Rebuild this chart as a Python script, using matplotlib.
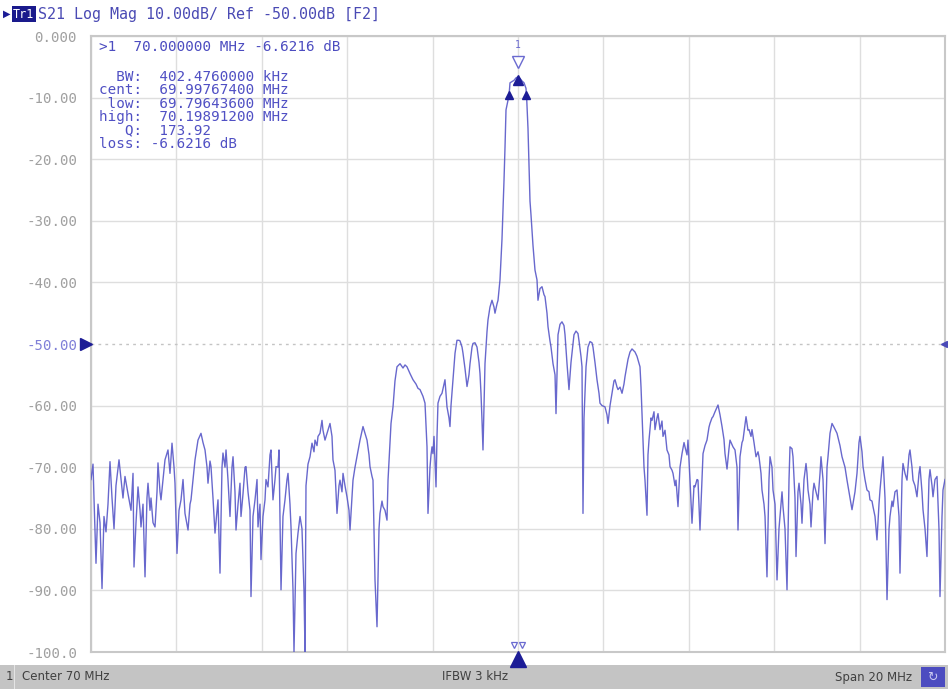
import numpy as np
import matplotlib
matplotlib.use("Agg")
import matplotlib.pyplot as plt
from matplotlib.patches import Rectangle

# ---------------- data ----------------
seg1_mhz = [60.000, 60.047, 60.070, 60.117, 60.164, 60.211, 60.258, 60.304, 60.351, 60.398,
            60.445, 60.492, 60.539, 60.585, 60.656, 60.703, 60.749, 60.796, 60.866, 60.937,
            60.984, 61.007, 61.054, 61.101, 61.148, 61.171, 61.218, 61.265, 61.311, 61.335,
            61.382, 61.405, 61.452, 61.499, 61.546, 61.569, 61.616, 61.639, 61.686, 61.733,
            61.803, 61.850, 61.897, 61.944, 61.967, 62.014, 62.061, 62.108, 62.155, 62.201,
            62.272, 62.319, 62.342, 62.389, 62.436, 62.506, 62.576, 62.623, 62.670, 62.717,
            62.740, 62.787, 62.810, 62.857, 62.904, 62.951, 62.974, 63.021, 63.068, 63.091,
            63.138, 63.162, 63.208, 63.255, 63.302, 63.326, 63.372, 63.396, 63.443, 63.489,
            63.513, 63.560, 63.607, 63.630, 63.677, 63.724, 63.747, 63.794, 63.841, 63.888,
            63.911, 63.958, 63.981, 64.028, 64.075, 64.098, 64.145, 64.192, 64.215, 64.262,
            64.309, 64.333, 64.379, 64.403, 64.450, 64.496, 64.543, 64.590, 64.614, 64.660,
            64.684, 64.731, 64.754, 64.801, 64.848, 64.895, 64.941, 64.988, 65.012, 65.035]
seg1_db = [-72.0, -69.5, -75.0, -85.6, -76.0, -79.0, -89.7, -78.0, -80.5, -76.0,
           -69.1, -75.0, -80.0, -73.0, -68.8, -72.0, -75.0, -71.5, -74.3, -77.0,
           -71.0, -86.2, -79.0, -73.2, -77.0, -79.7, -76.0, -87.8, -75.0, -72.6,
           -77.0, -75.0, -79.0, -79.7, -74.0, -69.3, -74.0, -75.3, -72.0, -68.8,
           -67.2, -71.0, -66.1, -70.0, -72.6, -84.0, -77.0, -75.3, -72.0, -77.5,
           -80.2, -76.0, -75.3, -72.0, -68.8, -65.6, -64.5, -66.0, -67.2, -70.0,
           -72.6, -69.0, -69.9, -75.0, -80.7, -77.0, -75.3, -87.2, -70.0, -67.7,
           -70.0, -67.2, -72.0, -78.0, -70.0, -68.3, -74.0, -80.2, -76.0, -72.6,
           -78.0, -74.3, -70.0, -69.9, -74.0, -77.0, -91.0, -78.0, -75.3, -72.0,
           -79.7, -76.0, -85.0, -78.0, -75.3, -72.0, -73.2, -68.0, -67.2, -75.3,
           -72.0, -69.9, -70.0, -67.2, -89.9, -78.0, -75.3, -72.0, -71.0, -76.0,
           -79.7, -90.0, -100.0, -84.0, -80.7, -78.0, -80.0, -90.0, -100.0, -73.0]

seg2_mhz = [65.082, 65.129, 65.176, 65.222, 65.246, 65.293, 65.316, 65.363, 65.410, 65.433,
            65.480, 65.527, 65.597, 65.644, 65.667, 65.714, 65.761, 65.808, 65.831, 65.878,
            65.902, 65.948, 65.995, 66.042, 66.066, 66.112, 66.136, 66.183, 66.229, 66.300,
            66.370, 66.417, 66.464, 66.511, 66.534, 66.581, 66.604, 66.651, 66.698, 66.745,
            66.768, 66.815, 66.838, 66.885, 66.932, 66.956, 67.002, 67.026, 67.073, 67.119,
            67.166, 67.237, 67.307, 67.354, 67.400, 67.471, 67.541, 67.611, 67.658, 67.705,
            67.775, 67.822, 67.845, 67.869, 67.892, 67.939, 67.963, 67.986, 68.009, 68.033,
            68.080, 68.103, 68.126, 68.173, 68.220, 68.267, 68.290, 68.337, 68.384, 68.407,
            68.431, 68.478, 68.525, 68.571, 68.618, 68.642, 68.689, 68.712, 68.759, 68.806,
            68.852, 68.876, 68.923, 68.946, 68.993, 69.040, 69.087, 69.110, 69.133, 69.157,
            69.180, 69.227, 69.274, 69.297, 69.344, 69.391, 69.438, 69.461, 69.508, 69.532,
            69.578, 69.625, 69.672, 69.696, 69.719, 69.790, 69.813, 69.860, 69.906, 69.953,
            70.000, 70.047, 70.094, 70.141, 70.187, 70.200, 70.234, 70.258, 70.281, 70.304,
            70.351, 70.398, 70.445]
seg2_db = [-69.5, -68.3, -66.1, -67.5, -65.6, -66.5, -65.0, -64.5, -62.4, -64.0,
           -65.6, -64.5, -62.9, -65.0, -68.8, -70.5, -77.5, -73.0, -72.1, -74.0,
           -71.0, -73.0, -74.8, -77.0, -80.2, -75.0, -72.1, -70.0, -68.3, -65.6,
           -63.4, -64.5, -65.6, -68.0, -69.9, -71.5, -72.1, -88.3, -95.9, -80.0,
           -77.5, -75.5, -76.4, -77.0, -78.6, -72.1, -66.0, -62.9, -60.2, -56.0,
           -53.7, -53.2, -53.9, -53.4, -53.7, -54.8, -55.8, -56.5, -57.2, -57.4,
           -58.5, -59.6, -63.0, -66.7, -77.5, -70.0, -68.0, -66.7, -67.8, -65.0,
           -73.2, -65.0, -59.6, -58.5, -58.0, -56.5, -55.8, -60.2, -62.0, -63.4,
           -60.0, -55.8, -51.5, -49.4, -49.4, -49.5, -50.5, -51.5, -54.0, -56.9,
           -55.0, -53.2, -50.5, -49.9, -49.8, -50.5, -53.0, -54.8, -58.0, -62.4,
           -67.2, -53.2, -48.0, -46.1, -44.0, -42.9, -44.0, -45.0, -43.5, -42.9,
           -39.6, -33.0, -23.5, -18.0, -12.0, -9.62, -7.6, -7.4, -7.2, -6.8,
           -6.62, -6.9, -7.3, -7.6, -8.5, -9.62, -15.0, -20.9, -26.8, -29.0,
           -34.0, -38.0, -39.6]

seg3_mhz = [70.468, 70.515, 70.562, 70.609, 70.632, 70.679, 70.703, 70.749, 70.773, 70.820,
            70.867, 70.890, 70.913, 70.937, 70.984, 71.030, 71.077, 71.101, 71.148, 71.194,
            71.241, 71.265, 71.311, 71.358, 71.405, 71.429, 71.475, 71.499, 71.522, 71.546,
            71.593, 71.639, 71.686, 71.733, 71.756, 71.803, 71.850, 71.897, 71.920, 71.967,
            72.037, 72.084, 72.108, 72.155, 72.201, 72.248, 72.272, 72.319, 72.342, 72.389,
            72.436, 72.482, 72.506, 72.576, 72.623, 72.670, 72.740, 72.787, 72.857, 72.881,
            72.904, 72.951, 72.974, 73.021, 73.044, 73.068, 73.115, 73.138, 73.185, 73.208,
            73.255, 73.279, 73.326, 73.372, 73.396, 73.443, 73.489, 73.536, 73.560, 73.607,
            73.630, 73.677, 73.700, 73.747, 73.794, 73.841, 73.888, 73.911, 73.958, 73.981,
            74.028, 74.075, 74.122, 74.145, 74.192, 74.215, 74.262, 74.309, 74.333, 74.379,
            74.426, 74.473, 74.496, 74.543, 74.567, 74.614, 74.684, 74.731, 74.778, 74.824,
            74.848, 74.895, 74.941, 74.965, 75.035]
seg3_db = [-42.9, -41.0, -40.7, -42.0, -42.3, -45.0, -47.2, -49.5, -50.5, -53.2,
           -55.0, -61.3, -55.0, -48.5, -46.8, -46.4, -47.0, -48.5, -53.2, -57.4,
           -53.0, -51.5, -48.5, -47.9, -48.3, -49.5, -52.0, -53.7, -77.5, -62.0,
           -53.7, -50.5, -49.6, -49.8, -50.5, -53.0, -55.8, -58.0, -59.6, -60.0,
           -60.2, -61.5, -62.9, -60.0, -58.0, -56.0, -55.8, -57.0, -57.4, -57.0,
           -58.0, -56.5, -55.3, -52.5, -51.3, -50.8, -51.3, -52.0, -53.7, -57.0,
           -61.3, -70.0, -72.1, -77.8, -68.0, -65.6, -62.0, -62.4, -61.0, -63.9,
           -62.0, -61.3, -63.9, -62.5, -65.0, -64.0, -67.2, -68.0, -69.9, -70.5,
           -71.0, -73.0, -72.1, -76.4, -70.0, -67.8, -66.0, -66.7, -68.0, -65.6,
           -72.1, -79.1, -73.0, -73.2, -72.0, -72.1, -80.2, -72.0, -67.8, -66.5,
           -65.6, -63.5, -62.9, -62.0, -61.8, -61.0, -59.9, -61.5, -63.4, -65.5,
           -67.8, -70.3, -67.0, -65.6, -66.7]

seg4_mhz = [75.082, 75.129, 75.152, 75.199, 75.246, 75.269, 75.316, 75.340, 75.386, 75.410,
            75.457, 75.480, 75.527, 75.574, 75.621, 75.644, 75.691, 75.714, 75.761, 75.785,
            75.831, 75.878, 75.902, 75.948, 75.972, 76.019, 76.066, 76.112, 76.136, 76.183,
            76.206, 76.253, 76.300, 76.347, 76.370, 76.417, 76.440, 76.487, 76.511, 76.557,
            76.581, 76.628, 76.651, 76.698, 76.745, 76.768, 76.792, 76.838, 76.862, 76.909,
            76.932, 76.979, 77.026, 77.073, 77.096, 77.143, 77.190, 77.237, 77.260, 77.307,
            77.354, 77.400, 77.471, 77.541, 77.588, 77.658, 77.705, 77.775, 77.822, 77.892,
            77.939, 77.986, 78.009, 78.056, 78.080, 78.126, 78.173, 78.220, 78.243, 78.290,
            78.314, 78.361, 78.407, 78.454, 78.478, 78.525, 78.548, 78.595, 78.642, 78.689,
            78.712, 78.759, 78.782, 78.829, 78.876, 78.923, 78.946, 78.993, 79.016, 79.063,
            79.110, 79.157, 79.180, 79.227, 79.251, 79.297, 79.344, 79.391, 79.415, 79.461,
            79.485, 79.532, 79.578, 79.625, 79.649, 79.696, 79.719, 79.766, 79.813, 79.859,
            79.883, 79.930, 79.953, 80.000]
seg4_db = [-67.2, -70.0, -80.2, -68.3, -66.0, -65.6, -63.0, -61.8, -64.0, -63.9,
           -65.0, -63.9, -66.0, -68.3, -67.5, -68.3, -71.0, -73.7, -76.0, -78.0,
           -87.8, -72.0, -68.3, -70.0, -73.7, -76.0, -88.3, -80.0, -78.0, -74.0,
           -76.4, -80.0, -89.9, -72.0, -66.7, -67.0, -68.3, -75.0, -84.5, -74.0,
           -72.6, -76.0, -79.1, -72.0, -69.4, -71.0, -73.7, -76.0, -79.7, -74.0,
           -72.6, -74.0, -75.3, -71.0, -68.3, -72.0, -82.4, -70.0, -68.3, -64.5,
           -62.9, -63.5, -64.5, -66.5, -68.3, -70.0, -72.1, -75.0, -76.9, -74.0,
           -71.0, -66.0, -65.0, -67.5, -69.9, -72.0, -73.7, -74.0, -75.3, -75.5,
           -76.4, -78.0, -81.8, -76.0, -73.7, -70.0, -68.3, -75.0, -91.5, -80.0,
           -78.0, -75.5, -76.4, -74.0, -73.7, -78.0, -87.2, -72.0, -69.4, -71.0,
           -72.1, -68.0, -67.2, -70.0, -72.1, -73.0, -74.8, -71.0, -69.9, -74.0,
           -76.9, -80.0, -84.5, -72.0, -70.4, -73.0, -74.8, -72.0, -71.5, -80.0,
           -91.0, -78.0, -73.7, -72.0]

ytick_values = [0, -10, -20, -30, -40, -50, -60, -70, -80, -90, -100]
ytick_labels = ["0.000", "-10.00", "-20.00", "-30.00", "-40.00", "-50.00",
                "-60.00", "-70.00", "-80.00", "-90.00", "-100.0"]
xtick_values = [60, 62, 64, 66, 68, 70, 72, 74, 76, 78, 80]

marker_freq = 70.0
marker_db = -6.6216
bw_low = 69.796436
bw_high = 70.198912
bw_cent = 69.997674
bw_level = -9.6216

header_text = "S21 Log Mag 10.00dB/ Ref -50.00dB [F2]"
marker_line = ">1  70.000000 MHz -6.6216 dB"
marker_block = ["  BW:  402.4760000 kHz",
                "cent:  69.99767400 MHz",
                " low:  69.79643600 MHz",
                "high:  70.19891200 MHz",
                "   Q:  173.92",
                "loss: -6.6216 dB"]
status_left = "Center 70 MHz"
status_mid = "IFBW 3 kHz"
status_right = "Span 20 MHz"

# ---------------- figure ----------------
W, H = 948, 689
fig = plt.figure(figsize=(W / 100, H / 100), dpi=100)
fig.patch.set_facecolor("white")

def fx(x):
    return x / W

def fy(y):
    return 1 - y / H

ax = fig.add_axes([fx(91), 37 / H, 854 / W, 616 / H])
ax.set_xlim(60, 80)
ax.set_ylim(-100, 0)

mono = "DejaVu Sans Mono"
trace_color = "#5858c8"
dark_blue = "#1c1c96"

freq = seg1_mhz + seg2_mhz + seg3_mhz + seg4_mhz
db = seg1_db + seg2_db + seg3_db + seg4_db
ax.plot(freq, db, color=trace_color, lw=1.0, alpha=0.9, zorder=3)

ax.set_xticks(xtick_values)
ax.set_xticklabels([])
ax.set_yticks(ytick_values)
ax.set_yticklabels(ytick_labels, fontfamily=mono, fontsize=10.2, color="#a0a0a0")
ax.tick_params(length=0, pad=10)
for lab in ax.get_yticklabels():
    if lab.get_text() == "-50.00":
        lab.set_color("#8080d8")
ax.grid(True, color="#dedede", lw=1.0, zorder=0)
for val, gl in zip(ytick_values, ax.get_ygridlines()):
    if val == -50:
        gl.set_linestyle((0, (2, 3)))
        gl.set_color("#c4c4c4")
for s in ax.spines.values():
    s.set_color("#c8c8c8")
    s.set_linewidth(1.5)

# markers on trace
ax.plot([bw_low, bw_high], [bw_level, bw_level], linestyle="none", marker="^",
        markersize=6, color=dark_blue, zorder=5)
ax.plot([bw_cent], [marker_db - 0.6], linestyle="none", marker="^",
        markersize=7, color=dark_blue, zorder=5)
ax.plot([marker_freq], [marker_db + 2.4], linestyle="none", marker="v",
        markersize=8, markerfacecolor="white", markeredgecolor="#6a6ad0",
        markeredgewidth=1.0, zorder=6)
ax.text(marker_freq, marker_db + 4.4, "1", ha="center", va="bottom",
        fontsize=7, color="#6a6ad0", fontfamily=mono, zorder=6)

# bottom marker position indicators
xb = ax.get_xaxis_transform()
ax.plot([marker_freq], [-0.012], transform=xb, linestyle="none", marker="^",
        markersize=11, color=dark_blue, clip_on=False, zorder=6)
ax.plot([bw_low + 0.1, bw_high - 0.1], [0.012, 0.012], transform=xb,
        linestyle="none", marker="v", markersize=5, markerfacecolor="white",
        markeredgecolor="#6a6ad0", markeredgewidth=0.9, clip_on=False, zorder=6)

# reference level indicators
yb = ax.get_yaxis_transform()
ax.plot([-0.006], [-50], transform=yb, linestyle="none", marker=">",
        markersize=9, color=dark_blue, clip_on=False, zorder=6)
ax.plot([0.999], [-50], transform=yb, linestyle="none", marker="<",
        markersize=4, color="#4a4ab8", clip_on=False, zorder=6)

# marker readout
fig.text(fx(99), fy(47), marker_line, fontfamily=mono, fontsize=10.3,
         color="#4c4cc0", ha="left", va="center")
for i, line in enumerate(marker_block):
    fig.text(fx(99), fy(77 + i * 13.4), line, fontfamily=mono, fontsize=10.3,
             color="#5050c4", ha="left", va="center")

# header
fig.text(fx(3), fy(14), "\u25B6", fontsize=7, color=dark_blue, ha="left", va="center")
fig.text(fx(13), fy(14), "Tr1", fontfamily=mono, fontsize=8.5, color="white",
         ha="left", va="center",
         bbox=dict(boxstyle="square,pad=0.12", facecolor="#1a1a8c", edgecolor="none"))
fig.text(fx(38), fy(14), header_text, fontfamily=mono, fontsize=10.8,
         color="#4a4ab4", ha="left", va="center")

# status bar
fig.add_artist(Rectangle((0, 0), 1, 24 / H, transform=fig.transFigure,
                         facecolor="#c4c4c4", edgecolor="none", zorder=0))
fig.add_artist(Rectangle((fx(14), 0), fx(1), 24 / H, transform=fig.transFigure,
                         facecolor="#e4e4e4", edgecolor="none", zorder=1))
fig.add_artist(Rectangle((fx(921), fy(687)), fx(24), 20 / H, transform=fig.transFigure,
                         facecolor="#4c4cc0", edgecolor="none", zorder=1))
fig.text(fx(932), fy(677), "\u21BB", fontsize=9, color="#c8c8f0", ha="center", va="center")
sb = dict(fontfamily=["Liberation Sans Narrow", "DejaVu Sans"], fontsize=8.5,
          color="#404040", va="center")
fig.text(fx(9), fy(677), "1", ha="center", **sb)
fig.text(fx(22), fy(677), status_left, ha="left", **sb)
fig.text(fx(475), fy(677), status_mid, ha="center", **sb)
fig.text(fx(912), fy(677), status_right, ha="right", **sb)

fig.savefig("out.png", dpi=100)
